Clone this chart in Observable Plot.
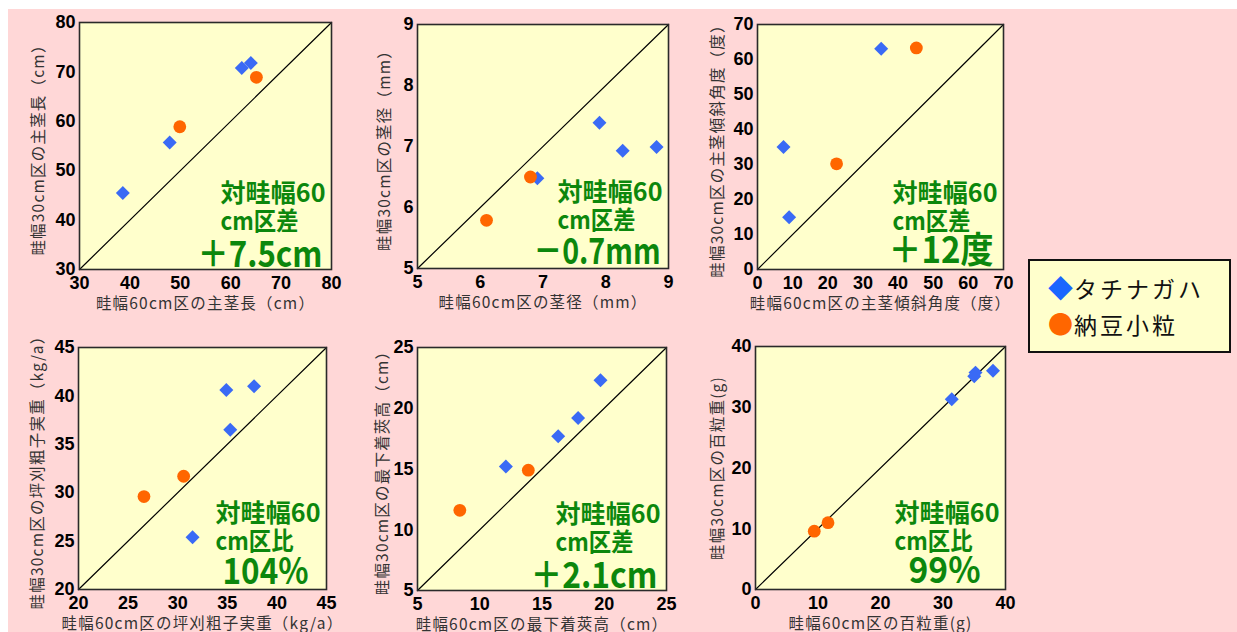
<!DOCTYPE html>
<html><head><meta charset="utf-8">
<script src="https://cdn.jsdelivr.net/npm/d3@7"></script>
<script src="https://cdn.jsdelivr.net/npm/@observablehq/plot@0.6"></script>
<style>
body{margin:0;background:#fff;}
#root{position:relative;width:1237px;height:632px;overflow:hidden;font-family:"Noto Sans CJK JP",sans-serif;}
#pink{position:absolute;left:8px;top:9px;right:0;bottom:0;background:#ffd7d7;}
.panel{position:absolute;}
#legend{position:absolute;left:1028px;top:259px;width:199px;height:90px;border:2px solid #111;background:#ffffcc;
  box-sizing:content-box;padding:0;font-size:23px;letter-spacing:3px;line-height:36px;color:#111;}
#legend .row{position:absolute;left:18px;white-space:nowrap;}
#legend .sym{font-size:25px;letter-spacing:1px;}
</style></head>
<body><div id="root"><div id="pink"></div></div>
<script>
// ---- data ----
const varieties = ["タチナガハ", "納豆小粒"];
const seriesColors = ["#3a6af5", "#ff6600"];

// panel 1: 主茎長 (cm)
const stemLengthVariety = ["タチナガハ","タチナガハ","タチナガハ","タチナガハ","納豆小粒","納豆小粒"];
const stemLength60 = [38.6, 47.9, 62.2, 64.0, 49.9, 65.1];
const stemLength30 = [45.5, 55.7, 70.8, 71.8, 58.9, 68.9];
// panel 2: 茎径 (mm)
const stemDiamVariety = ["タチナガハ","タチナガハ","タチナガハ","タチナガハ","納豆小粒","納豆小粒"];
const stemDiam60 = [7.9, 8.27, 8.81, 6.91, 6.8, 6.1];
const stemDiam30 = [7.39, 6.93, 6.99, 6.48, 6.5, 5.79];
// panel 3: 主茎傾斜角度 (度)
const angleVariety = ["タチナガハ","タチナガハ","タチナガハ","納豆小粒","納豆小粒"];
const angle60 = [35.2, 7.4, 9.0, 45.2, 22.5];
const angle30 = [63.1, 35.0, 14.9, 63.3, 30.2];
// panel 4: 坪刈粗子実重 (kg/a)
const yieldVariety = ["タチナガハ","タチナガハ","タチナガハ","タチナガハ","納豆小粒","納豆小粒"];
const yield60 = [34.9, 37.7, 35.3, 31.5, 26.6, 30.6];
const yield30 = [40.6, 41.0, 36.5, 25.4, 29.6, 31.7];
// panel 5: 最下着莢高 (cm)
const podVariety = ["タチナガハ","タチナガハ","タチナガハ","タチナガハ","納豆小粒","納豆小粒"];
const pod60 = [19.7, 17.9, 16.3, 12.1, 13.9, 8.4];
const pod30 = [22.3, 19.2, 17.7, 15.2, 14.9, 11.6];
// panel 6: 百粒重 (g)
const seedVariety = ["タチナガハ","タチナガハ","タチナガハ","タチナガハ","納豆小粒","納豆小粒"];
const seed60 = [31.4, 35.2, 35.0, 38.0, 9.4, 11.6];
const seed30 = [31.3, 35.7, 35.1, 36.0, 9.6, 11.0];

const xLabels = ["畦幅60cm区の主茎長（cm）","畦幅60cm区の茎径（mm）","畦幅60cm区の主茎傾斜角度（度）",
  "畦幅60cm区の坪刈粗子実重（kg/a）","畦幅60cm区の最下着莢高（cm）","畦幅60cm区の百粒重(g)"];
const yLabels = ["畦幅30cm区の主茎長（cm）","畦幅30cm区の茎径（mm）","畦幅30cm区の主茎傾斜角度（度）",
  "畦幅30cm区の坪刈粗子実重（kg/a）","畦幅30cm区の最下着莢高（cm）","畦幅30cm区の百粒重(g)"];
const axisDomains = [[30,80],[5,9],[0,70],[20,45],[5,25],[0,40]];
const tickValues = [
  [30,40,50,60,70,80],
  [5,6,7,8,9],
  [0,10,20,30,40,50,60,70],
  [20,25,30,35,40,45],
  [5,10,15,20,25],
  [0,10,20,30,40]
];
const notePrefix = "対畦幅60";
const noteKind = ["cm区差","cm区差","cm区差","cm区比","cm区差","cm区比"];
const noteValue = ["＋7.5cm","－0.7mm","＋12度","104%","＋2.1cm","99%"];

const panelX = [stemLength60, stemDiam60, angle60, yield60, pod60, seed60];
const panelY = [stemLength30, stemDiam30, angle30, yield30, pod30, seed30];
const panelV = [stemLengthVariety, stemDiamVariety, angleVariety, yieldVariety, podVariety, seedVariety];

// ---- layout (screen) ----
const frameBoxes = [[79,331,22,269],[417,668,24,268],[757,1003,24,269],[78,326,347,589],[417,666,347,590],[755,1005,346,589]];
const yLabelOffset = [40,32,39,40,34,37];
const valueRight = [9,8,10,18,9,25];
const valueBottom = [3,5,7,6,3,7];
const valueWidth = [125,127,105,86,127,72];
const ML = 75, MR = 15, MT = 15, MB = 45;
const green = "#0c870c";

const root = document.getElementById("root");

for (let i = 0; i < 6; i++) {
  const [x0, x1, y0, y1] = frameBoxes[i];
  const [lo, hi] = axisDomains[i];
  const rows = panelX[i].map((x, j) => ({x, y: panelY[i][j], variety: panelV[i][j]}));
  const blue = rows.filter(d => d.variety === varieties[0]);
  const orange = rows.filter(d => d.variety === varieties[1]);
  const width = (x1 - x0) + ML + MR, height = (y1 - y0) + MT + MB;
  const svg = Plot.plot({
    width, height, marginLeft: ML, marginRight: MR, marginTop: MT, marginBottom: MB,
    style: {background: "transparent", overflow: "visible", fontFamily: "'Liberation Sans', Arial, sans-serif",
            fontSize: "18px", fontWeight: "bold", color: "#000"},
    x: {domain: [lo, hi]},
    y: {domain: [lo, hi]},
    marks: [
      Plot.frame({fill: "#ffffcc"}),
      Plot.line([[lo, lo], [hi, hi]], {stroke: "#000", strokeWidth: 1.2}),
      Plot.dot(blue, {x: "x", y: "y", symbol: "diamond2", r: 6.3, fill: seriesColors[0]}),
      Plot.dot(orange, {x: "x", y: "y", r: 6.4, fill: seriesColors[1]}),
      Plot.axisX(tickValues[i], {tickSize: 0, tickPadding: 7, label: null, tickFormat: d => String(d), fill: "#000"}),
      Plot.axisY(tickValues[i], {tickSize: 0, tickPadding: 4, label: null, tickFormat: d => String(d), fill: "#000"}),
      Plot.text([xLabels[i]], {frameAnchor: "bottom", textAnchor: "middle", dy: 39, lineAnchor: "bottom",
        fontFamily: "'Noto Sans CJK JP', sans-serif", fontSize: 15.5, fontWeight: "normal", fill: "#333"}),
      Plot.text([yLabels[i]], {frameAnchor: "left", textAnchor: "middle", dx: -yLabelOffset[i], rotate: -90, lineAnchor: "middle",
        fontFamily: "'Noto Sans CJK JP', sans-serif", fontSize: 15.5, fontWeight: "normal", fill: "#333"}),
      Plot.text([notePrefix], {frameAnchor: "bottom-right", textAnchor: "start", lineAnchor: "bottom",
        dx: -111, dy: -68, fontFamily: "'Noto Sans CJK JP', sans-serif", fontSize: 25, fontWeight: "bold", fill: green}),
      Plot.text([noteKind[i]], {frameAnchor: "bottom-right", textAnchor: "start", lineAnchor: "bottom",
        dx: -111, dy: -40, fontFamily: "'Noto Sans CJK JP', sans-serif", fontSize: 25, fontWeight: "bold", fill: green}),
      Plot.text([noteValue[i]], {frameAnchor: "bottom-right", textAnchor: "end", lineAnchor: "bottom",
        dx: -valueRight[i], dy: -valueBottom[i], fontFamily: "'Noto Sans CJK JP', sans-serif", fontSize: 36, fontWeight: "bold", fill: green}),
      Plot.frame({stroke: "#2a2a2a", strokeWidth: 1.6})
    ]
  });
  // text post-processing: fitted widths and label spacing
  d3.select(svg).selectAll("text").each(function() {
    const t = this.textContent;
    if (t === notePrefix) { this.setAttribute("textLength", 105); this.setAttribute("lengthAdjust", "spacingAndGlyphs"); }
    else if (t === noteKind[i]) { this.setAttribute("textLength", 78); this.setAttribute("lengthAdjust", "spacingAndGlyphs"); }
    else if (t === noteValue[i]) { this.setAttribute("textLength", valueWidth[i]); this.setAttribute("lengthAdjust", "spacingAndGlyphs"); }
    else if (t === xLabels[i] || t === yLabels[i]) { this.style.letterSpacing = "1.2px"; }
  });
  svg.classList.add("panel");
  svg.style.left = (x0 - ML) + "px";
  svg.style.top = (y0 - MT) + "px";
  root.appendChild(svg);
}

// legend
const legend = document.createElement("div");
legend.id = "legend";
const legendSymbols = ["◆", "●"];
varieties.forEach((v, k) => {
  const row = document.createElement("div");
  row.className = "row";
  row.style.top = (8 + k * 36) + "px";
  const s = document.createElement("span");
  s.className = "sym";
  s.style.color = k === 0 ? "#1a66ff" : seriesColors[1];
  s.textContent = legendSymbols[k];
  row.appendChild(s);
  row.appendChild(document.createTextNode(v));
  legend.appendChild(row);
});
root.appendChild(legend);
</script>
</body></html>
